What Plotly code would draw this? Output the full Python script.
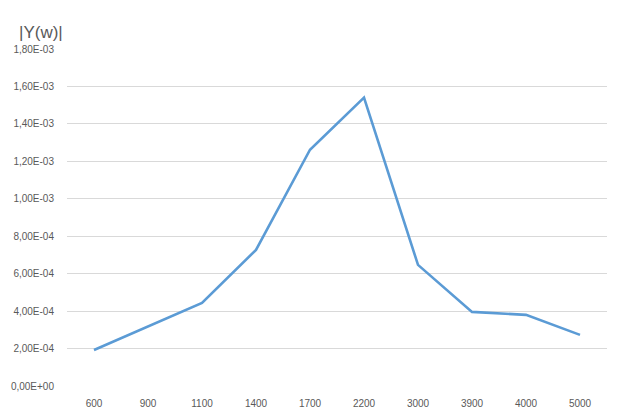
import plotly.graph_objects as go

categories = ["600", "900", "1100", "1400", "1700", "2200", "3000", "3900", "4000", "5000"]
values = [1.92e-4, 3.2e-4, 4.44e-4, 7.27e-4, 1.262e-3, 1.54e-3, 6.47e-4, 3.96e-4, 3.80e-4, 2.73e-4]
y_tickvals = [0, 2e-4, 4e-4, 6e-4, 8e-4, 1e-3, 1.2e-3, 1.4e-3, 1.6e-3, 1.8e-3]
y_ticktext = ["0,00E+00", "2,00E-04", "4,00E-04", "6,00E-04", "8,00E-04",
              "1,00E-03", "1,20E-03", "1,40E-03", "1,60E-03", "1,80E-03"]

fig = go.Figure()
fig.add_trace(go.Scatter(x=categories, y=values, mode="lines",
                         line=dict(color="#5B9BD5", width=2.6), hoverinfo="skip"))

fig.update_layout(
    width=623, height=418,
    margin=dict(l=59, r=24, t=41, b=40),
    paper_bgcolor="white", plot_bgcolor="white",
    showlegend=False,
    font=dict(family="Liberation Sans, Arial, sans-serif", size=10, color="#595959"),
    xaxis=dict(type="category", range=[-0.5, 9.5], showgrid=False, showline=False,
               zeroline=False, ticks="", tickfont=dict(size=10, color="#595959"),
               ticklabelstandoff=10, automargin=False),
    yaxis=dict(range=[0, 1.8e-3], tickvals=y_tickvals, ticktext=y_ticktext,
               showgrid=True, gridcolor="#D9D9D9", gridwidth=1, zeroline=False,
               showline=False, ticks="", tickfont=dict(size=10, color="#595959"),
               ticklabelstandoff=12, automargin=False),
    annotations=[dict(text="|Y(w)|", xref="paper", yref="paper", x=-0.093, y=1.0,
                      xanchor="left", yanchor="middle", showarrow=False,
                      font=dict(size=17, color="#595959"), yshift=17)],
)

fig.write_html("out.html")
